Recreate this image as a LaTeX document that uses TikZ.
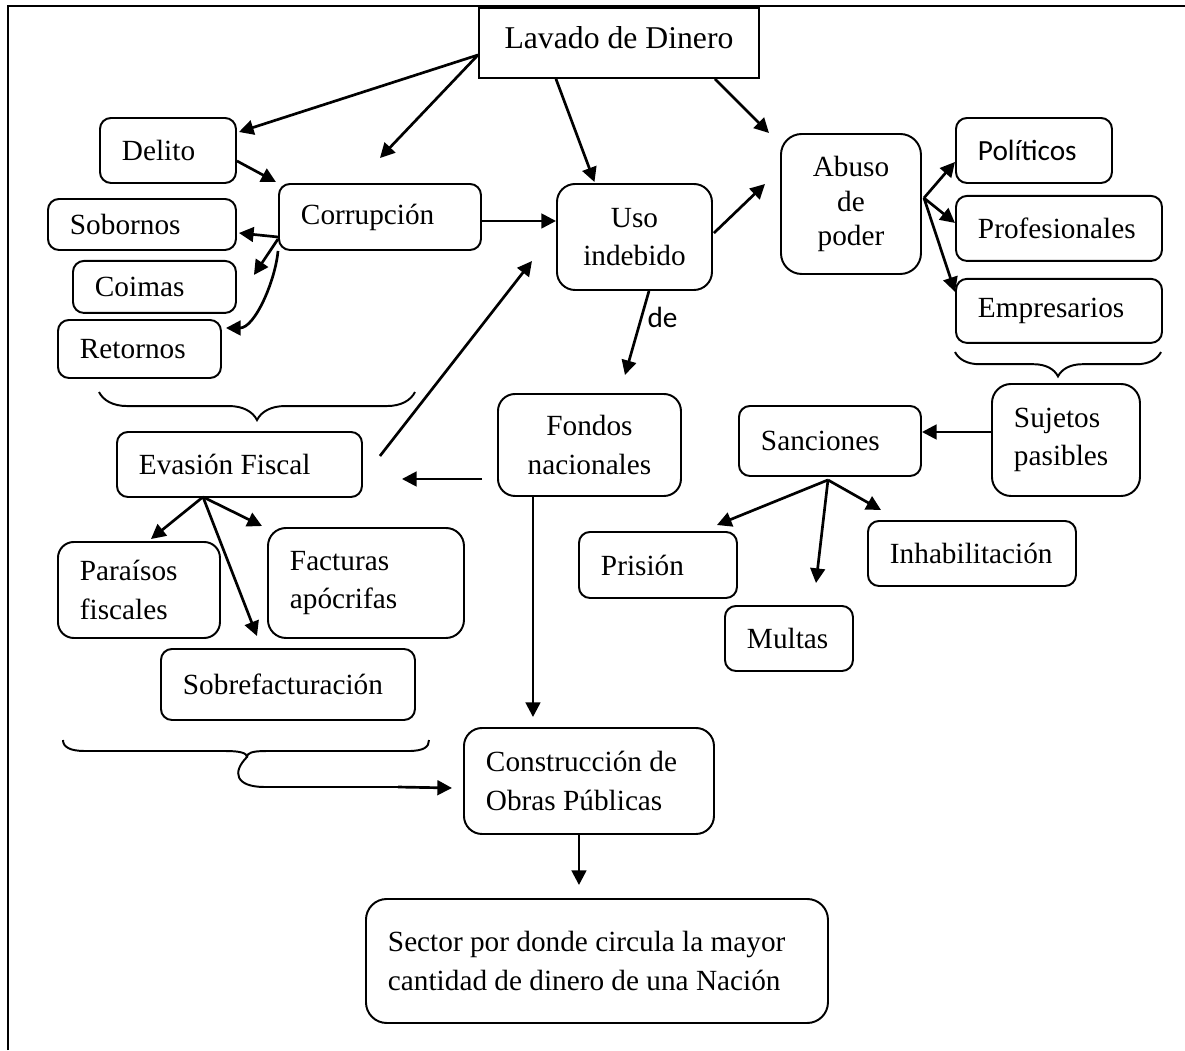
\documentclass[tikz,border=0pt]{standalone}
\usepackage{fontspec}
\setmainfont{Liberation Serif}
\newfontfamily\carlito{Carlito}
\usetikzlibrary{arrows.meta,positioning,decorations.pathreplacing}
\newlength\pxu
\setlength\pxu{0.41pt}

\begin{document}
\begin{tikzpicture}[x=\pxu,y=-\pxu,->,>={Triangle[length=6pt,width=6pt]},
                    line width=1.1pt]

  \tikzstyle{box}=[draw,rectangle,rounded corners=4.5pt,line width=0.8pt,
                   anchor=north west,inner xsep=22\pxu,inner ysep=0pt,align=flush left,
                   font=\fontsize{12}{15.8}\selectfont]

  \useasboundingbox (0,0) rectangle (1185,1050);
  \draw[-,line width=0.8pt] (8,1050) -- (8,6) -- (1185,6);

  \node[box,sharp corners,inner xsep=0pt,align=flush center,minimum width=280\pxu,
        minimum height=70\pxu,text depth=4.5pt,font=\fontsize{13}{16}\selectfont]
       (lav) at (478,7) {Lavado de Dinero};

  \node[box,text width=92\pxu,minimum height=65\pxu]  (delito) at (99,117)  {Delito};
  \node[box,text width=158\pxu,minimum height=66\pxu] (corr)   at (278,183) {Corrupción};
  \node[box,text width=144\pxu,minimum height=51\pxu] (sob)    at (47,198)  {Sobornos};
  \node[box,text width=119\pxu,minimum height=52\pxu] (coimas)
       [below=9\pxu of sob.south east,anchor=north east] {Coimas};
  \node[box,text width=119\pxu,minimum height=58\pxu] (ret)    at (57,319)  {Retornos};

  \node[box,rounded corners=7.4pt,align=flush center,text width=111\pxu,minimum height=106\pxu]
       (uso) at (556,183) {Uso\\indebido};
  \node[box,rounded corners=8.5pt,align=flush center,text width=96\pxu,minimum height=140\pxu,
        font=\fontsize{12}{14}\selectfont] (abuso) at (780,133) {Abuso\\de\\poder};

  \node[box,text width=112\pxu,minimum height=65\pxu,font=\carlito\fontsize{12}{15.8}\selectfont]
       (pol) at (955,117) {Políticos};
  \node[box,text width=162\pxu,minimum height=65\pxu] (prof)
       [below=11\pxu of pol.south west,anchor=north west] {Profesionales};
  \node[box,text width=162\pxu,minimum height=64\pxu] (emp)
       [below=16\pxu of prof.south west,anchor=north west] {Empresarios};

  \node[box,rounded corners=7.8pt,text width=104\pxu,minimum height=112\pxu]
       (suj) at (991,383) {Sujetos\\pasibles};
  \node[box,text width=138\pxu,minimum height=70\pxu] (sanc)  at (738,405) {Sanciones};
  \node[box,text width=114\pxu,minimum height=66\pxu] (pris)  at (578,531) {Prisión};
  \node[box,text width=84\pxu,minimum height=65\pxu]  (mult)  at (724,605) {Multas};
  \node[box,text width=164\pxu,minimum height=65\pxu] (inhab) at (867,520) {Inhabilitación};

  \node[box,rounded corners=7pt,align=flush center,text width=139\pxu,minimum height=102\pxu]
       (fondos) at (497,393) {Fondos\\nacionales};
  \node[box,text width=201\pxu,minimum height=65\pxu] (evas) at (116,431) {Evasión Fiscal};
  \node[box,rounded corners=6.5pt,text width=118\pxu,minimum height=96\pxu]
       (para) at (57,541) {Paraísos\\fiscales};
  \node[box,rounded corners=7.4pt,text width=152\pxu,minimum height=110\pxu]
       (fact) at (267,527) {Facturas\\apócrifas};
  \node[box,text width=210\pxu,minimum height=71\pxu] (sobre) at (160,648) {Sobrefacturación};

  \node[box,rounded corners=7.4pt,text width=206\pxu,minimum height=106\pxu]
       (cons) at (463,727) {Construcción de\\Obras Públicas};
  \node[box,rounded corners=8.5pt,text width=418\pxu,minimum height=124\pxu]
       (sector) at (365,898) {Sector por donde circula la mayor\\cantidad de dinero de una Nación};

  % llaves
  \draw[-,line width=0.8pt,decorate,decoration={brace,mirror,amplitude=11.5pt}] (99,392) -- (415,392);
  \draw[-,line width=0.8pt,decorate,decoration={brace,mirror,amplitude=10pt}] (955,352) -- (1161,352);
  \coordinate (brend) at (398,787);
  \draw[-,line width=0.8pt] (63,740) .. controls (63,747) and (70,751) .. (85,751) -- (226,751)
       .. controls (240,751) and (247,753) .. (247,757)
       .. controls (232,772) and (235,787) .. (265,787) -- (brend);
  \draw[-,line width=0.8pt] (247,757) .. controls (247,753) and (252,751) .. (266,751) -- (408,751)
       .. controls (424,751) and (429,747) .. (429,740);

  \path
  ([shift={(0,12)}]lav.west)   edge ([shift={(2,15)}]delito.north east)
  ([shift={(0,12)}]lav.west)   edge ([shift={(0,-25)}]corr.north)
  ([shift={(-63,0)}]lav.south) edge ([shift={(-40,-1)}]uso.north)
  ([shift={(96,0)}]lav.south)  edge ([shift={(-11,0)}]abuso.north west)

  ([shift={(0,10.5)}]delito.east) edge ([shift={(-2,-1)}]corr.north west)
  ([shift={(0,4)}]corr.east)  edge ([shift={(0,-16)}]uso.west)
  ([shift={(0,20)}]corr.west) edge ([shift={(2,8.5)}]sob.east)
  ([shift={(0,22)}]corr.west) edge ([shift={(17,15)}]coimas.north east)
  (corr.south west) edge [out=-95,in=0,looseness=0.8] ([shift={(4,-21)}]ret.east)

  ([shift={(1,-4)}]uso.east)  edge ([shift={(-15,-20)}]abuso.west)
  ([shift={(2,-6)}]abuso.east) edge ([shift={(0,11.5)}]pol.west)
  ([shift={(2,-6)}]abuso.east) edge ([shift={(0,-5.5)}]prof.west)
  ([shift={(2,-6)}]abuso.east) edge ([shift={(0,-19)}]emp.west)

  ([shift={(14.5,0)}]uso.south) edge node[right,pos=0.32,inner sep=2pt,
        font=\carlito\fontsize{12}{14}\selectfont] (de) {de} ([shift={(35.5,-18)}]fondos.north)

  ([shift={(-15,34)}]fondos.west) edge ([shift={(39,14.5)}]evas.east)
  ([shift={(17,-8.5)}]evas.east)  edge ([shift={(-24,24)}]uso.west)
  ([shift={(-36.5,-1)}]evas.south) edge ([shift={(12,-2)}]para.north)
  ([shift={(-36.5,-1)}]evas.south) edge ([shift={(-5,-1)}]fact.north west)
  ([shift={(-36.5,-1)}]evas.south) edge ([shift={(-31,-12)}]sobre.north)

  ([shift={(-56.5,0)}]fondos.south) edge ([shift={(-56,-10)}]cons.north)
  (brend) edge ([shift={(-11,7)}]cons.west)
  ([shift={(-10,0)}]cons.south) edge ([shift={(-18,-13)}]sector.north)

  ([shift={(0,-8)}]suj.west)  edge ([shift={(0,-9)}]sanc.east)
  ([shift={(-2,3)}]sanc.south) edge ([shift={(-21,-6)}]pris.north east)
  ([shift={(-2,3)}]sanc.south) edge ([shift={(27,-22)}]mult.north)
  ([shift={(-2,3)}]sanc.south) edge ([shift={(14,-10)}]inhab.north west)
  ;
\end{tikzpicture}
\end{document}
